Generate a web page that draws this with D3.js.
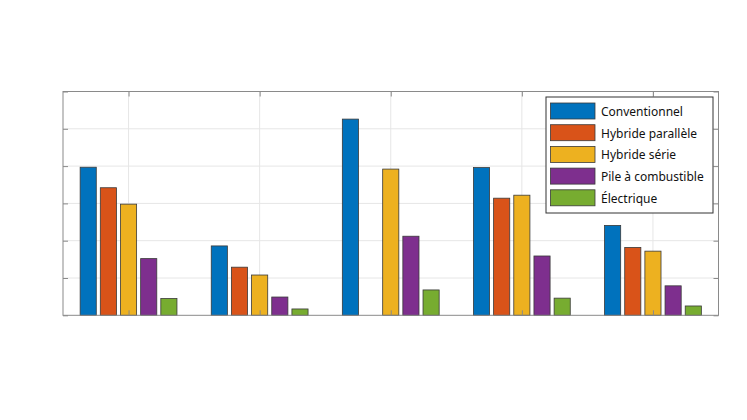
<!DOCTYPE html>
<html><head><meta charset="utf-8">
<script src="https://cdn.jsdelivr.net/npm/d3@7"></script>
<style>body{margin:0;background:#fff}svg{display:block}</style>
</head><body>
<script>
const categories = [1, 2, 3, 4, 5];
const seriesNames = ["Conventionnel", "Hybride parallèle", "Hybride série", "Pile à combustible", "Électrique"];
const seriesColors = ["#0072BD", "#D95319", "#EDB120", "#7E2F8E", "#77AC30"];
const conventionnel = [3.97, 1.86, 5.26, 3.96, 2.41];
const hybrideParallele = [3.42, 1.29, 0, 3.14, 1.82];
const hybrideSerie = [2.98, 1.08, 3.92, 3.22, 1.72];
const pileCombustible = [1.52, 0.49, 2.12, 1.59, 0.79];
const electrique = [0.45, 0.17, 0.68, 0.46, 0.25];
const yTicks = [0, 1, 2, 3, 4, 5, 6];
const seriesValues = [conventionnel, hybrideParallele, hybrideSerie, pileCombustible, electrique];

const W = 747, H = 420;
const L = 63, R = 718.5, T = 91.5, B = 315.3;
const svg = d3.select("body").append("svg").attr("width", W).attr("height", H);
const x = d3.scaleLinear().domain([0.5, 5.5]).range([L, R]);
const y = d3.scaleLinear().domain([0, 6]).range([B, T]);

// grid
const grid = svg.append("g");
grid.selectAll(".gx").data(categories).join("line")
  .attr("x1", d => x(d)).attr("x2", d => x(d)).attr("y1", T).attr("y2", B)
  .attr("stroke", "#e6e6e6").attr("stroke-width", 1);
grid.selectAll(".gy").data(yTicks.slice(1, -1)).join("line")
  .attr("y1", d => y(d)).attr("y2", d => y(d)).attr("x1", L).attr("x2", R)
  .attr("stroke", "#e6e6e6").attr("stroke-width", 1);

// bars
const n = seriesNames.length;
const groupW = Math.min(0.8, n / (n + 1.5));
const step = groupW / n;
const barW = step * 0.8;
seriesValues.forEach((vals, i) => {
  const off = -groupW / 2 + step * (i + 0.5);
  svg.append("g").selectAll("rect").data(categories.map((c, j) => ({c, v: vals[j]})).filter(d => d.v > 0))
    .join("rect")
    .attr("x", d => x(d.c + off - barW / 2))
    .attr("width", d => x(d.c + off + barW / 2) - x(d.c + off - barW / 2))
    .attr("y", d => y(d.v))
    .attr("height", d => y(0) - y(d.v))
    .attr("fill", seriesColors[i])
    .attr("stroke", "#3a3a3a").attr("stroke-width", 0.8);
});

// axes (no labels, inward ticks)
const axC = "#8a8a8a";
const axL = d3.axisRight(y).tickValues(yTicks).tickSize(5).tickFormat("");
const axR = d3.axisLeft(y).tickValues(yTicks).tickSize(5).tickFormat("");
const axT = d3.axisBottom(x).tickValues(categories).tickSize(5).tickFormat("");
const axB = d3.axisTop(x).tickValues(categories).tickSize(5).tickFormat("");
[[axL, `translate(${L},0)`], [axR, `translate(${R},0)`], [axT, `translate(0,${T})`], [axB, `translate(0,${B})`]].forEach(([a, tr]) => {
  const g = svg.append("g").attr("transform", tr).call(a);
  g.select(".domain").remove();
  g.selectAll("line").attr("stroke", axC);
});
svg.append("rect").attr("x", L).attr("y", T).attr("width", R - L).attr("height", B - T)
  .attr("fill", "none").attr("stroke", axC).attr("stroke-width", 1);

// legend
const lx = 546, ly = 97, lw = 167, lh = 116;
const lg = svg.append("g");
lg.append("rect").attr("x", lx).attr("y", ly).attr("width", lw).attr("height", lh)
  .attr("fill", "#fff").attr("stroke", "#333").attr("stroke-width", 1);
seriesNames.forEach((s, i) => {
  const ry = ly + 6 + i * 21.7;
  lg.append("rect").attr("x", lx + 4.5).attr("y", ry).attr("width", 44.5).attr("height", 16)
    .attr("fill", seriesColors[i]).attr("stroke", "#3a3a3a").attr("stroke-width", 0.8);
  lg.append("text").attr("x", lx + 55).attr("y", ry + 8.5).attr("dy", "0.36em")
    .attr("font-family", "Noto Sans, Open Sans, sans-serif").attr("font-size", 12)
    .attr("fill", "#111").text(s);
});
</script>
</body></html>
